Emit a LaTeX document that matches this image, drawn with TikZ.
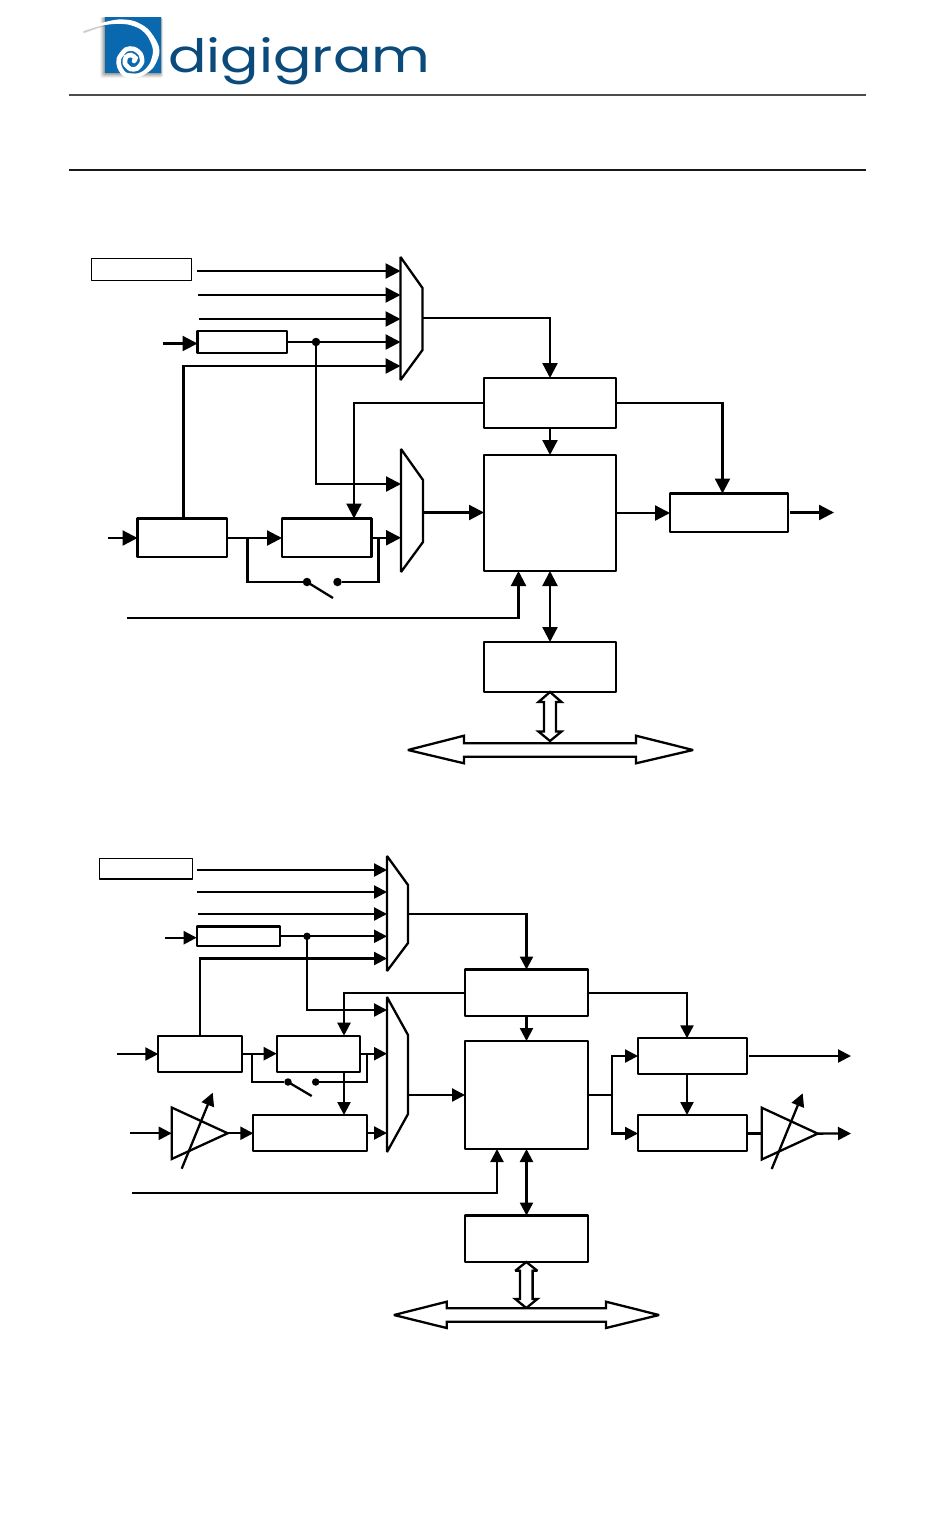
\documentclass[tikz,border=0pt]{standalone}
\usepackage{fontspec}
\usetikzlibrary{arrows.meta,calc}
\newfontfamily\logofont{Poppins}
\definecolor{logoblue}{HTML}{0B4B7C}
\definecolor{squareblue}{HTML}{0A68AE}
\newcommand{\blk}[6]{%
  \pgfmathsetmacro\blkw{#5-#3}\pgfmathsetmacro\blkh{#6-#4}%
  \pgfmathsetmacro\blkx{(#3+#5)/2}\pgfmathsetmacro\blky{(#4+#6)/2}%
  \node[#1,minimum width=\blkw pt,minimum height=\blkh pt] (#2) at (\blkx,\blky) {};}
\newcommand{\muxblk}[7]{%
  \blk{hidden}{#1}{#2}{#3}{#4}{#5}%
  \draw[muxline] (#1.north west) -- (#4,#6) -- (#4,#7) -- (#1.south west) -- cycle;}
\newcommand{\ampblk}[6]{% name,x1,y1,x2,y2,unused
  \blk{hidden}{#1}{#2}{#3}{#4}{#5}%
  \draw[muxline] (#1.north west) -- (#1.east) -- (#1.south west) -- cycle;}
\tikzset{
  x=1pt,y=-1pt,
  lw/.style={line width=2.3pt},
  boxn/.style={draw=black,fill=white,rectangle,inner sep=0pt,outer sep=0pt,lw,line join=round},
  thinbox/.style={boxn,line width=1.4pt},
  hidden/.style={rectangle,inner sep=0pt,outer sep=0pt},
  muxline/.style={lw,line join=miter,miter limit=3,fill=white},
  conn/.style={lw,line join=miter},
  arrA/.style={lw,line join=miter,-{Triangle[length=15pt,width=15pt]}},
  arrB/.style={lw,line join=miter,-{Triangle[length=13pt,width=13pt]}},
  arrAA/.style={lw,{Triangle[length=15pt,width=15pt]}-{Triangle[length=15pt,width=15pt]}},
  arrBB/.style={lw,{Triangle[length=13pt,width=13pt]}-{Triangle[length=13pt,width=13pt]}},
  jdot/.style={circle,fill=black,inner sep=0pt,outer sep=0pt,minimum size=8.5pt},
  hollow/.style={lw,line join=miter,miter limit=3,fill=white},
}
\begin{document}
\begin{tikzpicture}
\useasboundingbox (0,0) rectangle (950,1535);
% ---- logo
\foreach \d/\o in {5/0.05,4/0.07,3/0.09,2/0.11,1/0.13}
  \fill[black,opacity=\o,rounded corners=2pt] (105-\d,17) rectangle (161+\d*0.4,73+\d);
\foreach \d/\o in {3/0.06,2/0.08,1/0.10}
  \draw[black,opacity=\o,line width=\d pt,line cap=round] plot[smooth] coordinates {(84,32)(95,28)(105,25)};
\fill[squareblue] (105,17) rectangle (161,73);
\fill[white] plot[smooth] coordinates {(85,30.5)(100,23.5)(118,19.5)(134,21)(148,29)(158,44)(159,55)(153,68)(142,76)(134,78)}
  -- plot[smooth] coordinates {(134,74.5)(143,71)(150,63)(153,50)(148,37)(140,29)(128,24.5)(114,24)(100,26)(85,30.5)} -- cycle;
\draw[white,line width=4.6pt,line cap=round] plot[smooth] coordinates {(135,76.2)(125,74.5)(119.5,67)(119,58.5)(126,49.5)(134,49)(140.5,54)(142,62)(137,68.5)(130.5,69)(125,63.5)(126,57)(131,55)(135.5,58)(134,61)};
\node[anchor=base west,inner sep=0pt,text=logoblue] (logotext) at (168,72)
  {\scalebox{1.24}[1]{\logofont\fontsize{46pt}{46pt}\selectfont digigram}};
% ---- header rules
\coordinate (r1a) at (69,95); \coordinate (r1b) at (866,95);
\coordinate (r2a) at (69,170); \coordinate (r2b) at (866,170);
\draw[line width=1.4pt,black!70] (r1a) -- (r1b);
\draw[line width=1.2pt,black!90] (r2a) -- (r2b);

% ================ upper diagram
\blk{thinbox}{ta}{91.5}{258.5}{191.5}{280.5}
\blk{boxn}{tb}{197.5}{331}{287}{353}
\blk{boxn}{tB}{484}{378}{616}{428}
\blk{boxn}{tC}{484}{455}{616}{571}
\blk{boxn}{tD}{137.5}{518.5}{227}{557}
\blk{boxn}{tE}{282}{518.5}{371.5}{557}
\blk{boxn}{tF}{484}{642}{616}{692}
\blk{boxn}{tG}{670}{493.5}{788}{532}
\muxblk{tm1}{400.5}{257}{422.5}{380}{288}{350}
\muxblk{tm2}{401}{449}{423}{572}{480}{542}
% inputs mux 1
\coordinate (t1) at (197,271); \coordinate (t2) at (198,295); \coordinate (t3) at (198.5,319);
\draw[arrA] (t1) -- (t1 -| tm1.west);
\draw[arrA] (t2) -- (t2 -| tm1.west);
\draw[arrA] (t3) -- (t3 -| tm1.west);
\coordinate (t4) at (163,343.5);
\draw[arrA] (t4) -- (t4 -| tb.west);
\draw[arrA] (tb.east) -- (tb.east -| tm1.west);
\node[jdot] (tj) at (316,342) {};
\coordinate (t5) at (400.5,366);
\coordinate (tDt) at (183.5,518.5);
\draw[arrA] (tDt) |- (t5);
\coordinate (tm2a) at (401,484);
\draw[arrA] (tj) |- (tm2a);
% outputs
\coordinate (tm1o) at (422.5,318);
\draw[arrA] (tm1o) -| (tB.north);
\coordinate (tEt) at (354,518.5);
\draw[arrA] (tB.west) -| (tEt);
\coordinate (tGt) at (722.5,493.5);
\draw[arrA] (tB.east) -| (tGt);
\draw[arrA] (tB.south) -- (tC.north);
\coordinate (tm2o) at (423,512.5);
\draw[arrA] (tm2o) -- (tm2o -| tC.west);
\draw[arrAA] (tC.south) -- (tF.north);
\draw[arrA] (tC.east) -- (tC.east -| tG.west);
\coordinate (tGo) at (790,512.5); \coordinate (tGe) at (834,512.5);
\draw[arrA] (tGo) -- (tGe);
% lower row
\coordinate (t6) at (108,538);
\draw[arrA] (t6) -- (t6 -| tD.west);
\coordinate (tDo) at (228,538);
\draw[arrA] (tDo) -- (tDo -| tE.west);
\coordinate (tEo) at (tE.east);
\draw[arrA] (tEo) -- (tEo -| tm2.west);
% switch
\node[jdot] (ts1) at (307,582) {};
\node[jdot] (ts2) at (337.5,582) {};
\coordinate (tl1) at (247.5,538); \coordinate (tl2) at (378.5,538); \coordinate (tsw) at (333,598);
\draw[conn] (tl1) |- (ts1);
\draw[conn] (tl2) |- (ts2);
\draw[conn] (ts1.center) -- (tsw);
% clock line
\coordinate (tk) at (127,618); \coordinate (tCb) at (518.5,571);
\draw[arrA] (tk) -| (tCb);
% hollow arrows
\draw[hollow] (550,692) -- (561.5,702) -- (556,702) -- (556,731.5) -- (561.5,731.5) -- (550,741) -- (538.5,731.5) -- (544,731.5) -- (544,702) -- (538.5,702) -- cycle;
\draw[hollow] (408,750) -- (464,735.7) -- (464,743.3) -- (636,743.3) -- (636,735.7) -- (693,750) -- (636,763.3) -- (636,756.7) -- (464,756.7) -- (464,763.3) -- cycle;

% ================ lower diagram
\blk{thinbox}{ba}{99.5}{858.5}{192.7}{879}
\blk{boxn}{bb}{196.7}{926.5}{280}{946.3}
\blk{boxn}{bB}{465}{969.5}{588}{1016}
\blk{boxn}{bC}{465}{1041}{588}{1149}
\blk{boxn}{bD}{158.3}{1035.7}{241.7}{1071.7}
\blk{boxn}{bE}{276.7}{1035.7}{360}{1071.7}
\blk{boxn}{bH}{253.3}{1115}{367}{1151}
\blk{boxn}{bF}{465}{1215.5}{588}{1262}
\blk{boxn}{bJ}{638}{1038.3}{747.3}{1074}
\blk{boxn}{bK}{638}{1115}{747.3}{1151}
\muxblk{bm1}{387}{856}{408}{971}{885}{943}
\muxblk{bm2}{387}{997}{408}{1152}{1035}{1114}
\ampblk{bam1}{171.7}{1107.5}{227.7}{1159}{}
\ampblk{bam2}{761.7}{1107.7}{817.7}{1159.5}{}
\coordinate (b1) at (197,870); \coordinate (b2) at (197,892); \coordinate (b3) at (198,914);
\draw[arrB] (b1) -- (b1 -| bm1.west);
\draw[arrB] (b2) -- (b2 -| bm1.west);
\draw[arrB] (b3) -- (b3 -| bm1.west);
\coordinate (b4) at (165,937.7);
\draw[arrB] (b4) -- (b4 -| bb.west);
\coordinate (bbo) at (280,936.3);
\draw[arrB] (bbo) -- (bbo -| bm1.west);
\node[jdot,minimum size=7.5pt] (bj) at (307,936.3) {};
\coordinate (b5) at (387,958.5); \coordinate (bDt) at (200.3,1035.7);
\draw[arrB] (bDt) |- (b5);
\coordinate (bm2a) at (387,1010);
\draw[arrB] (bj) |- (bm2a);
\coordinate (bm1o) at (408,914);
\draw[arrB] (bm1o) -| (bB.north);
\coordinate (bEt) at (344,1035.7);
\draw[arrB] (bB.west) -| (bEt);
\coordinate (bJt) at (687,1038.3);
\draw[arrB] (bB.east) -| (bJt);
\draw[arrB] (bB.south) -- (bC.north);
\coordinate (bm2o) at (408,1095);
\draw[arrB] (bm2o) -- (bm2o -| bC.west);
\draw[arrBB] (bC.south) -- (bF.north);
% input row
\coordinate (b6) at (117,1054);
\draw[arrB] (b6) -- (b6 -| bD.west);
\draw[arrB] (bD.east) -- (bE.west);
\draw[arrB] (bE.east) -- (bE.east -| bm2.west);
\node[jdot,minimum size=7.5pt] (bs1) at (288,1082) {};
\node[jdot,minimum size=7.5pt] (bs2) at (315.7,1082) {};
\coordinate (bl1) at (252.3,1053.7); \coordinate (bl2) at (367,1053.7); \coordinate (bsw) at (311.7,1096);
\draw[conn] (bl1) |- (bs1);
\draw[conn] (bl2) |- (bs2);
\draw[conn] (bs1.center) -- (bsw);
\coordinate (bEb) at (344,1071.7); \coordinate (bHt) at (344,1115);
\draw[arrB] (bEb) -- (bHt);
% analogue row
\coordinate (b7) at (130,1133.3);
\draw[arrB] (b7) -- (b7 -| bam1.west);
\draw[arrB] (bam1.east) -- (bam1.east -| bH.west);
\draw[arrB] (bH.east) -- (bH.east -| bm2.west);
\coordinate (bv1a) at (181.7,1168.7); \coordinate (bv1b) at (212.7,1092.7);
\draw[arrB] (bv1a) -- (bv1b);
% clock
\coordinate (bk) at (132,1193); \coordinate (bCb) at (497,1149);
\draw[arrB] (bk) -| (bCb);
% output fan
\coordinate (bfan) at (612.3,1095);
\draw[conn] (bC.east |- bfan) -- (bfan);
\coordinate (bJi) at (638,1056); \coordinate (bKi) at (638,1133.5);
\draw[arrB] (bfan) |- (bJi);
\draw[arrB] (bfan) |- (bKi);
\coordinate (bJb) at (687,1074); \coordinate (bKt) at (687,1115);
\draw[arrB] (bJb) -- (bKt);
\coordinate (bJo) at (749,1056); \coordinate (bJe) at (851,1056);
\draw[arrB] (bJo) -- (bJe);
\draw[conn] (bK.east |- bam2.west) -- (bam2.west);
\coordinate (bKe) at (851,1133.5);
\draw[arrB] (bam2.east) -- (bKe);
\coordinate (bv2a) at (771.7,1169); \coordinate (bv2b) at (802.7,1093.3);
\draw[arrB] (bv2a) -- (bv2b);
% hollow arrows
\draw[hollow] (526.3,1262) -- (537.3,1270.7) -- (532.6,1270.7) -- (532.6,1299) -- (537.3,1299) -- (526.3,1308) -- (515.3,1299) -- (520,1299) -- (520,1270.7) -- (515.3,1270.7) -- cycle;
\draw[hollow] (394,1315) -- (446.7,1301.7) -- (446.7,1308.3) -- (606,1308.3) -- (606,1301.7) -- (659,1315) -- (606,1328) -- (606,1321.7) -- (446.7,1321.7) -- (446.7,1328) -- cycle;
\end{tikzpicture}
\end{document}
